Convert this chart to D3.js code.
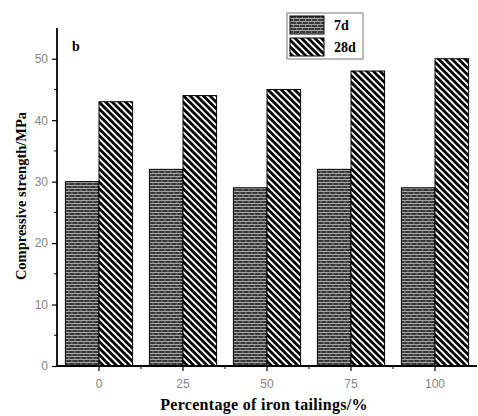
<!DOCTYPE html>
<html>
<head>
<meta charset="utf-8">
<script src="https://cdn.jsdelivr.net/npm/d3@7"></script>
<style>
  body { margin: 0; background: #fff; }
  svg { display: block; }
</style>
</head>
<body>
<svg id="chart"></svg>
<script>
// data
var categories = ["0", "25", "50", "75", "100"];
var seriesNames = ["7d", "28d"];
var strength7d = [30, 32, 29, 32, 29];
var strength28d = [43, 44, 45, 48, 50];
var yTicks = [0, 10, 20, 30, 40, 50];

var width = 478, height = 416;
var margin = { top: 28, right: 1, bottom: 50, left: 57 };

var svg = d3.select("#chart")
    .attr("width", width)
    .attr("height", height);

// fill patterns: brick for 7d, diagonal hatch for 28d
var defs = svg.append("defs");
var brick = defs.append("pattern")
    .attr("id", "brick")
    .attr("patternUnits", "userSpaceOnUse")
    .attr("width", 6).attr("height", 6);
brick.append("rect").attr("width", 6).attr("height", 6).attr("fill", "#383838");
brick.append("rect").attr("x", 0).attr("y", 2).attr("width", 6).attr("height", 1).attr("fill", "#a8a8a8");
brick.append("rect").attr("x", 0).attr("y", 5).attr("width", 6).attr("height", 1).attr("fill", "#a8a8a8");
brick.append("rect").attr("x", 0).attr("y", 0).attr("width", 1).attr("height", 2).attr("fill", "#7e7e7e");
brick.append("rect").attr("x", 3).attr("y", 3).attr("width", 1).attr("height", 2).attr("fill", "#7e7e7e");

var hatch = defs.append("pattern")
    .attr("id", "hatch")
    .attr("patternUnits", "userSpaceOnUse")
    .attr("width", 4.7).attr("height", 4.7)
    .attr("patternTransform", "rotate(-45)");
hatch.append("rect").attr("width", 4.7).attr("height", 4.7).attr("fill", "#000");
hatch.append("rect").attr("x", 0).attr("y", 0).attr("width", 1.9).attr("height", 4.7).attr("fill", "#fff");

var fills = ["url(#brick)", "url(#hatch)"];

var x = d3.scaleBand()
    .domain(categories)
    .range([margin.left, width - margin.right])
    .paddingInner(0.2)
    .paddingOuter(0.1);

var xSub = d3.scaleBand()
    .domain(seriesNames)
    .range([0, x.bandwidth()]);

var y = d3.scaleLinear()
    .domain([0, 55])
    .range([height - margin.bottom, margin.top]);

var rows = categories.map(function (c, i) {
    return { cat: c, values: [
        { name: "7d", value: strength7d[i] },
        { name: "28d", value: strength28d[i] }
    ] };
});

// bars
var groups = svg.selectAll("g.grp")
    .data(rows)
    .enter()
    .append("g")
    .attr("class", "grp")
    .attr("transform", function (d) { return "translate(" + x(d.cat) + ",0)"; });

groups.selectAll("rect")
    .data(function (d) { return d.values; })
    .enter()
    .append("rect")
    .attr("x", function (d) { return xSub(d.name); })
    .attr("y", function (d) { return y(d.value); })
    .attr("width", xSub.bandwidth())
    .attr("height", function (d) { return y(0) - y(d.value); })
    .attr("fill", function (d, i) { return fills[i]; })
    .attr("stroke", "#000")
    .attr("stroke-width", 1);

// y axis
var yAxis = svg.append("g")
    .attr("transform", "translate(" + margin.left + ",0)")
    .call(d3.axisLeft(y).tickValues(yTicks).tickSize(5).tickPadding(4));
yAxis.append("g").selectAll("line")
    .data([5, 15, 25, 35, 45])
    .enter()
    .append("line")
    .attr("x1", 0).attr("x2", -3)
    .attr("y1", function (d) { return y(d); })
    .attr("y2", function (d) { return y(d); })
    .attr("stroke", "#000");

// x axis
var xAxis = svg.append("g")
    .attr("transform", "translate(0," + y(0) + ")")
    .call(d3.axisBottom(x).tickSize(5).tickPadding(8));
xAxis.append("g").selectAll("line")
    .data(categories.slice(1))
    .enter()
    .append("line")
    .attr("x1", function (d) { return x(d) - x.step() * x.paddingInner() / 2; })
    .attr("x2", function (d) { return x(d) - x.step() * x.paddingInner() / 2; })
    .attr("y1", 0).attr("y2", 3)
    .attr("stroke", "#000");

[yAxis, xAxis].forEach(function (ax) {
    ax.select(".domain").attr("stroke", "#000").attr("stroke-width", 1.8);
    ax.selectAll(".tick line").attr("stroke", "#000").attr("stroke-width", 1.2);
    ax.selectAll("text")
        .attr("fill", "#858585")
        .style("font-family", "'Liberation Sans', Arial, sans-serif")
        .style("font-size", "12px");
});
// the picture has no outer tick caps
yAxis.select(".domain").attr("d", "M0," + y(55) + "V" + y(0));
xAxis.select(".domain").attr("d", "M" + margin.left + ",0H" + (width - margin.right));

// panel letter
svg.append("text")
    .attr("x", 72).attr("y", 51)
    .style("font-family", "'Liberation Serif', 'Times New Roman', serif")
    .style("font-weight", "bold")
    .style("font-size", "14px")
    .text("b");

// axis titles
svg.append("text")
    .attr("transform", "translate(26,196) rotate(-90)")
    .attr("text-anchor", "middle")
    .style("font-family", "'Liberation Serif', 'Times New Roman', serif")
    .style("font-weight", "bold")
    .style("font-size", "14.5px")
    .text("Compressive strength/MPa");

svg.append("text")
    .attr("x", 264).attr("y", 410)
    .attr("text-anchor", "middle")
    .style("font-family", "'Liberation Serif', 'Times New Roman', serif")
    .style("font-weight", "bold")
    .style("font-size", "16px")
    .style("letter-spacing", "0.3px")
    .text("Percentage of iron tailings/%");

// legend
var legend = svg.append("g").attr("transform", "translate(287,13)");
legend.append("rect")
    .attr("width", 76).attr("height", 46)
    .attr("fill", "#fff")
    .attr("stroke", "#777")
    .attr("stroke-width", 1);
var item = legend.selectAll("g.item")
    .data(seriesNames)
    .enter()
    .append("g")
    .attr("class", "item")
    .attr("transform", function (d, i) { return "translate(3," + (3 + i * 22) + ")"; });
item.append("rect")
    .attr("width", 34).attr("height", 18)
    .attr("fill", function (d, i) { return fills[i]; })
    .attr("stroke", "#000");
item.append("text")
    .attr("x", 44).attr("y", 14)
    .style("font-family", "'Liberation Serif', 'Times New Roman', serif")
    .style("font-weight", "bold")
    .style("font-size", "14px")
    .text(function (d) { return d; });
</script>
</body>
</html>
